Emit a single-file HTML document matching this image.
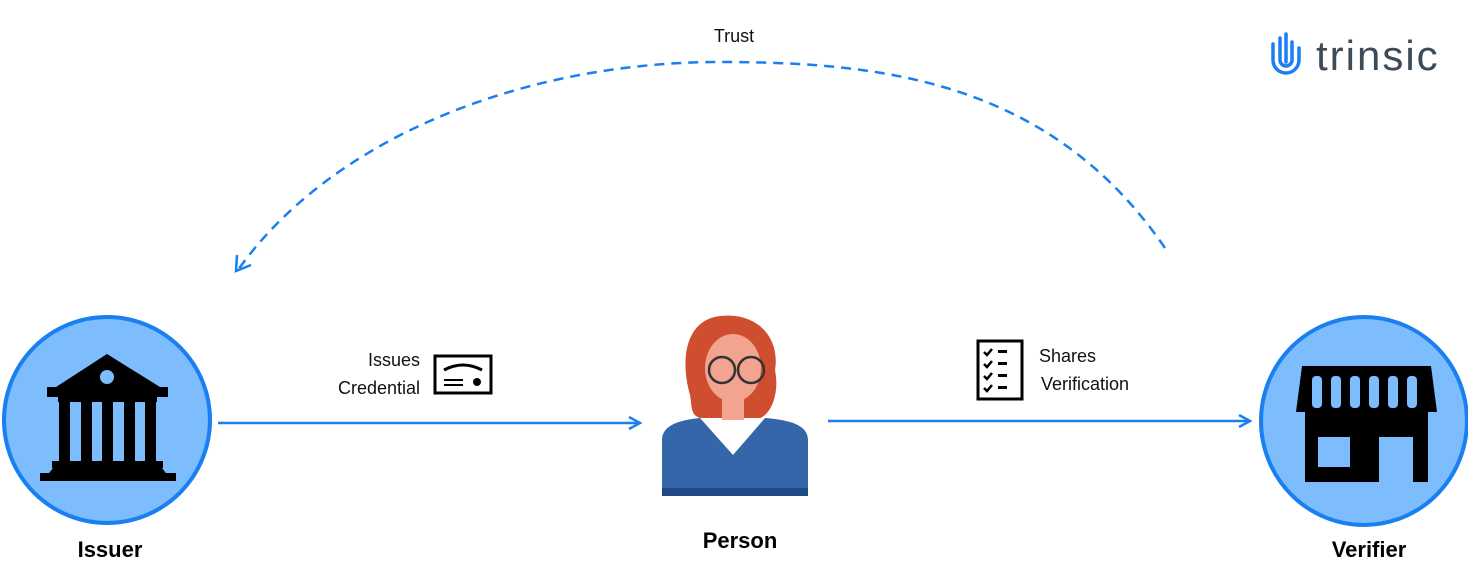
<!DOCTYPE html>
<html><head><meta charset="utf-8"><style>
html,body{margin:0;padding:0;background:#fff;}
body{width:1468px;height:577px;overflow:hidden;position:relative;font-family:"Liberation Sans",sans-serif;}
svg{position:absolute;left:0;top:0;}
</style></head><body>
<svg width="1468" height="577" viewBox="0 0 1468 577">
<defs>
<marker id="ah" markerWidth="14" markerHeight="14" refX="12" refY="7" orient="auto" markerUnits="userSpaceOnUse">
<path d="M1,1 L12,7 L1,13" fill="none" stroke="#1a7ff0" stroke-width="2.5"/>
</marker>
</defs>
<g>
<path d="M1165,248 C1050,80 880,62 720,62 C520,62 330,140 238,270" fill="none" stroke="#1a7ff0" stroke-width="2.5" stroke-dasharray="10,7"/>
<path d="M237,255 L236,271 L251,265" fill="none" stroke="#1a7ff0" stroke-width="2.5"/>
</g>
<text x="734" y="42" font-size="18" text-anchor="middle" fill="#111">Trust</text>
<g>
<g fill="none" stroke="#1a7ff0" stroke-width="3.5" stroke-linecap="round">
<path d="M1273,44 V60 A13,13 0 0 0 1299,60 V48"/>
<path d="M1280,38 V60 A6,6 0 0 0 1292,60 V42"/>
<path d="M1286,34 V62"/>
</g>
<text x="1316" y="70" font-size="42" letter-spacing="2" fill="#3d4a57">trinsic</text>
</g>
<g>
<circle cx="107" cy="420" r="103" fill="#7dbcfd" stroke="#1a7ff0" stroke-width="4"/>
<path d="M107,354 L160,387 L56,387 Z" fill="#000"/>
<circle cx="107" cy="377" r="7" fill="#7dbcfd"/>
<rect x="47" y="387" width="121" height="10" fill="#000"/>
<rect x="58" y="397" width="99" height="5" fill="#000"/>
<rect x="59" y="402" width="11" height="60" fill="#000"/>
<rect x="81" y="402" width="11" height="60" fill="#000"/>
<rect x="102" y="402" width="11" height="60" fill="#000"/>
<rect x="124" y="402" width="11" height="60" fill="#000"/>
<rect x="145" y="402" width="11" height="60" fill="#000"/>
<rect x="52" y="461" width="111" height="7" fill="#000"/>
<path d="M46,477 L53,468 L162,468 L169,477 Z" fill="#000"/>
<rect x="40" y="473" width="136" height="8" fill="#000"/>
</g>
<text x="110" y="557" font-size="22" font-weight="bold" text-anchor="middle" fill="#000">Issuer</text>
<line x1="218" y1="423" x2="640" y2="423" stroke="#1a7ff0" stroke-width="2.5" marker-end="url(#ah)"/>
<text x="420" y="366" font-size="18" text-anchor="end" fill="#111">Issues</text>
<text x="420" y="394" font-size="18" text-anchor="end" fill="#111">Credential</text>
<g>
<rect x="435" y="356" width="56" height="37" fill="#fff" stroke="#000" stroke-width="3"/>
<path d="M444,370 Q463,360 482,370" fill="none" stroke="#000" stroke-width="3"/>
<rect x="444" y="379" width="19" height="2" fill="#000"/><rect x="444" y="384" width="19" height="2" fill="#000"/>
<circle cx="477" cy="382" r="4" fill="#000"/>
</g>
<g>
<path d="M690,395 C680,360 685,320 720,316 C760,312 780,340 775,370 C780,395 770,415 760,418 L700,418 C690,415 692,405 690,395 Z" fill="#d04e30"/>
<ellipse cx="733" cy="368" rx="28" ry="34" fill="#f2a491"/>
<path d="M703,345 C715,325 745,320 765,345 L760,330 C745,315 715,315 703,330 Z" fill="#d04e30"/>
<circle cx="722" cy="370" r="13" fill="none" stroke="#333" stroke-width="2.5"/>
<circle cx="751" cy="370" r="13" fill="none" stroke="#333" stroke-width="2.5"/>
<rect x="722" y="398" width="22" height="22" fill="#f2a491"/>
<path d="M662,495 L662,440 C662,425 680,420 700,418 L733,455 L765,418 C790,420 808,425 808,440 L808,495 Z" fill="#3566aa"/>
<rect x="662" y="488" width="146" height="8" fill="#1f4a86"/>
</g>
<text x="740" y="548" font-size="22" font-weight="bold" text-anchor="middle" fill="#000">Person</text>
<line x1="828" y1="421" x2="1250" y2="421" stroke="#1a7ff0" stroke-width="2.5" marker-end="url(#ah)"/>
<g>
<rect x="978" y="341" width="44" height="58" fill="#fff" stroke="#000" stroke-width="3"/>
<g stroke="#000" stroke-width="2.5" fill="none">
<path d="M984,352 l3,3 l5,-6"/><path d="M984,364 l3,3 l5,-6"/><path d="M984,376 l3,3 l5,-6"/><path d="M984,388 l3,3 l5,-6"/>
</g>
<g fill="#000"><rect x="998" y="350" width="9" height="3"/><rect x="998" y="362" width="9" height="3"/><rect x="998" y="374" width="9" height="3"/><rect x="998" y="386" width="9" height="3"/></g>
</g>
<text x="1039" y="362" font-size="18" fill="#111">Shares</text>
<text x="1041" y="390" font-size="18" fill="#111">Verification</text>
<g>
<ellipse cx="1364" cy="421" rx="103" ry="104" fill="#7dbcfd" stroke="#1a7ff0" stroke-width="4"/>
<path d="M1302,366 L1431,366 L1437,412 L1296,412 Z" fill="#000"/>
<g fill="#7dbcfd">
<rect x="1312" y="376" width="10" height="32" rx="4"/><rect x="1331" y="376" width="10" height="32" rx="4"/><rect x="1350" y="376" width="10" height="32" rx="4"/><rect x="1369" y="376" width="10" height="32" rx="4"/><rect x="1388" y="376" width="10" height="32" rx="4"/><rect x="1407" y="376" width="10" height="32" rx="4"/>
</g>
<rect x="1305" y="412" width="123" height="70" fill="#000"/>
<rect x="1318" y="437" width="32" height="30" fill="#7dbcfd"/>
<rect x="1379" y="437" width="34" height="45" fill="#7dbcfd"/>
</g>
<text x="1369" y="557" font-size="22" font-weight="bold" text-anchor="middle" fill="#000">Verifier</text>
</svg>
</body></html>
